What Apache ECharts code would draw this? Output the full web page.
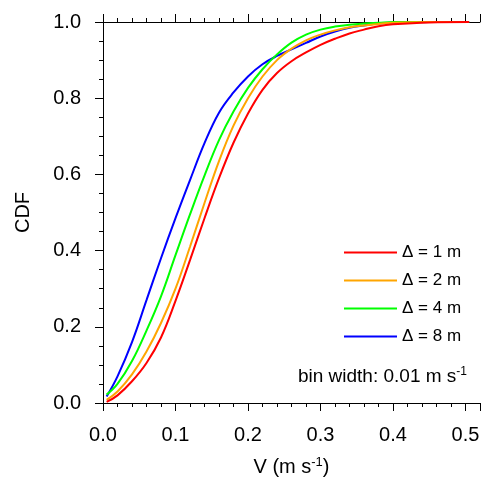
<!DOCTYPE html>
<html>
<head>
<meta charset="utf-8">
<script src="https://cdn.jsdelivr.net/npm/echarts@6/dist/echarts.min.js"></script>
<style>
  html, body { margin: 0; padding: 0; background: #ffffff; }
  #chart { width: 483px; height: 483px; }
</style>
</head>
<body>
<div id="chart"></div>
<script>
// wind speed bins (m s-1), shared by all curves
var speed = [0.005, 0.02, 0.04, 0.06, 0.08, 0.10, 0.12, 0.14, 0.16, 0.18, 0.20, 0.22, 0.24,
             0.26, 0.28, 0.30, 0.32, 0.34, 0.36, 0.38, 0.40, 0.45, 0.505];

// CDF for each spacing
var cdf_1m = [0.003, 0.020, 0.057, 0.105, 0.172, 0.268, 0.375, 0.485, 0.590, 0.683, 0.760, 0.822, 0.866,
              0.897, 0.920, 0.940, 0.956, 0.970, 0.980, 0.989, 0.994, 0.999, 1.0];
var cdf_2m = [0.008, 0.030, 0.075, 0.135, 0.210, 0.300, 0.410, 0.525, 0.635, 0.728, 0.800, 0.857, 0.900,
              0.930, 0.952, 0.967, 0.978, 0.986, 0.991, 0.995, 0.998, 1.0, 1.0];
var cdf_4m = [0.022, 0.050, 0.110, 0.190, 0.280, 0.388, 0.495, 0.597, 0.690, 0.765, 0.827, 0.876, 0.915,
              0.946, 0.967, 0.980, 0.988, 0.993, 0.996, 0.998, 1.0, 1.0, 1.0];
var cdf_8m = [0.017, 0.070, 0.160, 0.270, 0.380, 0.485, 0.585, 0.682, 0.762, 0.815, 0.857, 0.889, 0.911,
              0.928, 0.945, 0.962, 0.975, 0.985, 0.991, 0.996, 0.998, 1.0, 1.0];

var names = ['\u0394 = 1 m', '\u0394 = 2 m', '\u0394 = 4 m', '\u0394 = 8 m'];
var colors = ['#ff0000', '#ffa500', '#00ff00', '#0000ff'];

var xTicks = [0, 0.1, 0.2, 0.3, 0.4, 0.5];

function pairs(vals) {
  var out = [];
  for (var i = 0; i < speed.length; i++) out.push([speed[i], vals[i]]);
  return out;
}

var chart = echarts.init(document.getElementById('chart'), null, { renderer: 'canvas' });
var font = 'Liberation Sans, Arial, sans-serif';

function makeSeries(idx, vals) {
  return {
    name: names[idx],
    type: 'line',
    data: pairs(vals),
    showSymbol: false,
    smooth: 0.4,
    lineStyle: { color: colors[idx], width: 2 },
    itemStyle: { color: colors[idx] }
  };
}

var axisCommon = {
  axisLine: { show: true, onZero: false, lineStyle: { color: '#000', width: 1 } },
  axisTick: { show: true, inside: false, length: 8, lineStyle: { color: '#000', width: 1 } },
  minorTick: { show: true, splitNumber: 5, length: 4, lineStyle: { color: '#000', width: 1 } },
  splitLine: { show: false }
};

var option = {
  animation: false,
  backgroundColor: '#ffffff',
  grid: { left: 103, right: -1, top: 22, bottom: 80 },
  legend: {
    orient: 'vertical',
    left: 344,
    top: 244,
    padding: 0,
    itemWidth: 53,
    itemHeight: 2,
    itemGap: 11,
    icon: 'rect',
    data: names,
    textStyle: { fontFamily: font, fontSize: 17, color: '#000' }
  },
  xAxis: [
    Object.assign({}, axisCommon, {
      type: 'value',
      position: 'bottom',
      min: 0,
      max: 0.52,
      interval: 0.1,
      axisLabel: {
        margin: 22,
        fontFamily: font,
        fontSize: 20,
        color: '#000',
        formatter: function (v) {
          for (var i = 0; i < xTicks.length; i++) {
            if (Math.abs(v - xTicks[i]) < 1e-6) return xTicks[i].toFixed(1);
          }
          return '';
        }
      },
      name: 'V (m s{sup|-1})',
      nameLocation: 'middle',
      nameGap: 53,
      nameTextStyle: {
        fontFamily: font, fontSize: 20, color: '#000',
        rich: { sup: { fontFamily: font, fontSize: 13, color: '#000', verticalAlign: 'bottom', padding: [0, 0, 9, 0] } }
      }
    }),
    Object.assign({}, axisCommon, {
      type: 'value',
      position: 'top',
      min: 0,
      max: 0.52,
      interval: 0.1,
      axisLabel: { show: false }
    })
  ],
  yAxis: [
    Object.assign({}, axisCommon, {
      type: 'value',
      position: 'left',
      min: 0,
      max: 1,
      interval: 0.2,
      minorTick: { show: true, splitNumber: 4, length: 4, lineStyle: { color: '#000', width: 1 } },
      axisLabel: {
        margin: 22,
        fontFamily: font,
        fontSize: 20,
        color: '#000',
        formatter: function (v) { return v.toFixed(1); }
      },
      name: 'CDF',
      nameLocation: 'middle',
      nameGap: 70,
      nameTextStyle: { fontFamily: font, fontSize: 20, color: '#000' }
    })
  ],
  graphic: [
    {
      type: 'text',
      right: 16,
      top: 366,
      style: {
        text: '{a|bin width: 0.01 m s}{b|-1}',
        rich: {
          a: { fontFamily: font, fontSize: 19, fill: '#000', color: '#000' },
          b: { fontFamily: font, fontSize: 12, fill: '#000', color: '#000', verticalAlign: 'bottom', padding: [0, 0, 9, 0] }
        }
      }
    }
  ],
  series: [
    makeSeries(3, cdf_8m),
    makeSeries(2, cdf_4m),
    makeSeries(1, cdf_2m),
    makeSeries(0, cdf_1m)
  ]
};

chart.setOption(option);
</script>
</body>
</html>
